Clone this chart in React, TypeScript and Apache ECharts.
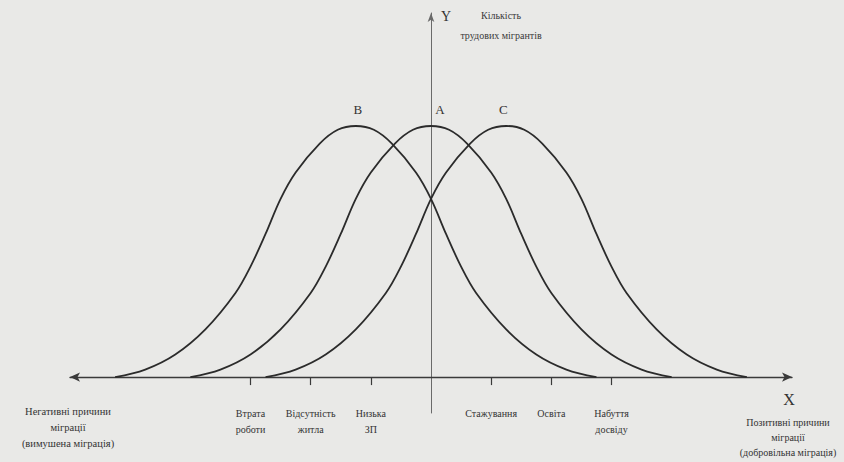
import React, { useEffect, useRef } from "react";
import * as echarts from "echarts";

// x positions (axis units, Y axis at 0) and heights
const curveBX = [-5.25, -4.75, -4.25, -3.75, -3.25, -3, -2.75, -2.5, -2.25, -1.85, -1.55, -1.25, -0.95, -0.65, -0.25, 0, 0.25, 0.5, 0.75, 1.25, 1.75, 2.25, 2.75];
const curveBY = [0, 3, 9, 19, 33.5, 44, 57, 71, 81.5, 93, 98.5, 100, 98.5, 93, 81.5, 71, 57, 44, 33.5, 19, 9, 3, 0];
const curveAX = [-4, -3.5, -3, -2.5, -2, -1.75, -1.5, -1.25, -1, -0.6, -0.3, 0, 0.3, 0.6, 1, 1.25, 1.5, 1.75, 2, 2.5, 3, 3.5, 4];
const curveAY = [0, 3, 9, 19, 33.5, 44, 57, 71, 81.5, 93, 98.5, 100, 98.5, 93, 81.5, 71, 57, 44, 33.5, 19, 9, 3, 0];
const curveCX = [-2.75, -2.25, -1.75, -1.25, -0.75, -0.5, -0.25, 0, 0.25, 0.65, 0.95, 1.25, 1.55, 1.85, 2.25, 2.5, 2.75, 3, 3.25, 3.75, 4.25, 4.75, 5.25];
const curveCY = [0, 3, 9, 19, 33.5, 44, 57, 71, 81.5, 93, 98.5, 100, 98.5, 93, 81.5, 71, 57, 44, 33.5, 19, 9, 3, 0];

const curveNames = ["B", "A", "C"];
const peakX = [-1.25, 0, 1.25];
const peakY = [100, 100, 100];

const tickValues = [-3, -2, -1, 1, 2, 3];
const tickLabels = ["Втрата\nроботи", "Відсутність\nжитла", "Низька\nЗП", "Стажування", "Освіта", "Набуття\nдосвіду"];

const negativeLabel = "Негативні причини\nміграції\n(вимушена міграція)";
const positiveLabel = "Позитивні причини\nміграції\n(добровільна міграція)";
const yTitle = "Кількість\nтрудових мігрантів";

const FONT = "'Liberation Serif', 'DejaVu Serif', serif";
const INK = "#2b2b2b";

function pairs(xs: number[], ys: number[]) {
  return xs.map((x, i) => [x, ys[i]]);
}

export default function App() {
  const ref = useRef<HTMLDivElement>(null);
  useEffect(() => {
    if (!ref.current) return;
    const chart = echarts.init(ref.current, null, { renderer: "svg" });
    const datasets = [pairs(curveBX, curveBY), pairs(curveAX, curveAY), pairs(curveCX, curveCY)];
    const labelOffsets = [[2, -2], [9, -2], [-3, -2]];
    chart.setOption({
      animation: false,
      backgroundColor: "#e9e9e7",
      grid: { left: 70, right: 52, top: 13, bottom: 49, outerBoundsMode: "none", containLabel: false },
      xAxis: {
        type: "value",
        min: -6,
        max: 6,
        splitLine: { show: false },
        axisLine: {
          show: true,
          onZero: true,
          symbol: ["arrow", "arrow"],
          symbolSize: [7, 10],
          lineStyle: { color: "#3a3a3a", width: 1.4 },
        },
        axisTick: {
          show: true,
          customValues: tickValues,
          length: 8,
          lineStyle: { color: "#3a3a3a", width: 1.2 },
        },
        axisLabel: {
          show: true,
          customValues: tickValues,
          margin: -8,
          fontFamily: FONT,
          fontSize: 10,
          lineHeight: 16,
          color: "#333",
          formatter: (v: number) => {
            const i = tickValues.indexOf(v);
            return i >= 0 ? tickLabels[i] : "";
          },
        },
      },
      yAxis: {
        type: "value",
        min: -14.3,
        max: 145,
        splitLine: { show: false },
        axisTick: { show: false },
        axisLabel: { show: false },
        axisLine: {
          show: true,
          onZero: true,
          symbol: ["none", "arrow"],
          symbolSize: [5, 9],
          lineStyle: { color: "#6a6a6a", width: 1 },
        },
      },
      series: datasets.map((d, i) => ({
        type: "line",
        data: d,
        smooth: 0.35,
        showSymbol: false,
        silent: true,
        lineStyle: { color: INK, width: 1.8 },
        markPoint: {
          symbol: "circle",
          symbolSize: 0,
          silent: true,
          data: [{ coord: [peakX[i], peakY[i]], value: curveNames[i] }],
          label: {
            show: true,
            position: "top",
            distance: 8,
            offset: labelOffsets[i],
            formatter: curveNames[i],
            fontFamily: FONT,
            fontSize: 13,
            color: "#333",
          },
        },
      })),
      graphic: [
        {
          type: "text",
          x: 446,
          y: 16,
          style: { text: "Y", fill: "#333", font: `14px ${FONT}`, align: "center", verticalAlign: "middle", textAlign: "center", textVerticalAlign: "middle" },
        },
        {
          type: "text",
          x: 501,
          y: 25,
          style: { text: yTitle, fill: "#3a3a3a", font: `10px ${FONT}`, lineHeight: 20, align: "center", verticalAlign: "middle", textAlign: "center", textVerticalAlign: "middle" },
        },
        {
          type: "text",
          x: 789,
          y: 399,
          style: { text: "X", fill: "#333", font: `16px ${FONT}`, align: "center", verticalAlign: "middle", textAlign: "center", textVerticalAlign: "middle" },
        },
        {
          type: "text",
          x: 68,
          y: 427,
          style: { text: negativeLabel, fill: "#333", font: `10.5px ${FONT}`, lineHeight: 16, align: "center", verticalAlign: "middle", textAlign: "center", textVerticalAlign: "middle" },
        },
        {
          type: "text",
          x: 788,
          y: 437,
          style: { text: positiveLabel, fill: "#333", font: `10px ${FONT}`, lineHeight: 15, align: "center", verticalAlign: "middle", textAlign: "center", textVerticalAlign: "middle" },
        },
      ],
    });
    return () => chart.dispose();
  }, []);
  return <div ref={ref} style={{ position: "fixed", left: 0, top: 0, width: 844, height: 462 }} />;
}
